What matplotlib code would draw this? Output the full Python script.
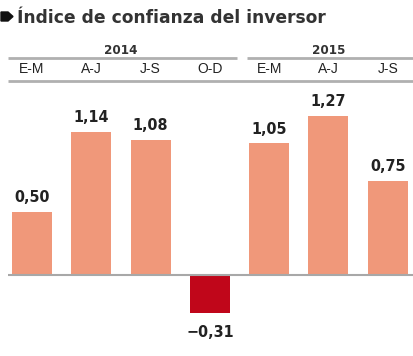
import matplotlib.pyplot as plt
import matplotlib.font_manager as fm
import numpy as np
from matplotlib.patches import Polygon

# data
years = ['2014', '2015']
periods = ['E-M', 'A-J', 'J-S', 'O-D', 'E-M', 'A-J', 'J-S']
values = [0.50, 1.14, 1.08, -0.31, 1.05, 1.27, 0.75]
value_labels = ['0,50', '1,14', '1,08', '\u22120,31', '1,05', '1,27', '0,75']

names = sorted({f.name for f in fm.fontManager.ttflist})
cond = [f for f in fm.fontManager.ttflist if f.name == 'DejaVu Sans' and f.stretch == 'condensed']
narrow = 'Liberation Sans Narrow' if 'Liberation Sans Narrow' in names else 'DejaVu Sans'
stretch = 'condensed'

W, H = 414, 356
fig = plt.figure(figsize=(W / 100, H / 100), dpi=100)
fig.patch.set_facecolor('white')

def fx(px): return px / W
def fy(py): return 1 - py / H

# title + bullet
fig.patches.append(Polygon([[fx(1), fy(12)], [fx(8), fy(12)], [fx(13), fy(16.5)],
                            [fx(8), fy(21)], [fx(1), fy(21)]],
                           closed=True, transform=fig.transFigure, color='#111111'))
fig.text(fx(17), fy(18), '\u00cdndice de confianza del inversor', fontsize=12.3,
         fontweight='bold', color='#333333', family='DejaVu Sans', va='center', ha='left')

# bar axes, baseline at y=274.7px
top_px, bot_px, base_px = 88, 356, 274.7
scale = 125.0
ax = fig.add_axes([fx(8), fy(bot_px), fx(414) - fx(8), fy(top_px) - fy(bot_px)])
step = 59.3
x = np.arange(len(values))
ax.set_xlim((8 - 32) / step, (414 - 32) / step)
ax.set_ylim(-(bot_px - base_px) / scale, (base_px - top_px) / scale)
colors = ['#F0987A' if v >= 0 else '#C0061A' for v in values]
ax.bar(x, values, width=40 / step, color=colors, zorder=2)
ax.axhline(0, color='#a8a8a8', lw=1.5, zorder=3)
for xi, v, lab in zip(x, values, value_labels):
    off = 5 if v >= 0 else -8
    ax.annotate(lab, (xi, v), xytext=(0, off), textcoords='offset points',
                ha='center', va='bottom' if v >= 0 else 'top', fontsize=11.5,
                fontweight='bold', color='#222222', family=narrow, fontstretch=stretch)
ax.axis('off')

# header: years, rules, period labels (same x scale as the bars)
hx = fig.add_axes([fx(8), fy(90), fx(414) - fx(8), fy(40) - fy(90)])
hx.set_xlim(ax.get_xlim())
hx.set_ylim(90, 40)
hx.axis('off')
groups = [(0, 3), (4, 6)]
for yr, (a, b) in zip(years, groups):
    left = a - 0.4 if a == 0 else a - 0.38
    right = b + 0.45 if b == 3 else b + 0.45
    hx.plot([left, right], [58, 58], color='#b0b0b0', lw=2, solid_capstyle='butt')
    hx.text((a + b) / 2, 54, yr, ha='center', va='baseline', fontsize=9.5,
            fontweight='bold', color='#333333', family=narrow, fontstretch=stretch)
for xi, p in zip(x, periods):
    hx.text(xi, 69, p, ha='center', va='center', fontsize=10, color='#222222',
            family='Liberation Sans')
hx.plot(hx.get_xlim(), [81, 81], color='#b0b0b0', lw=2, solid_capstyle='butt')

fig.savefig('out.png', dpi=100)
